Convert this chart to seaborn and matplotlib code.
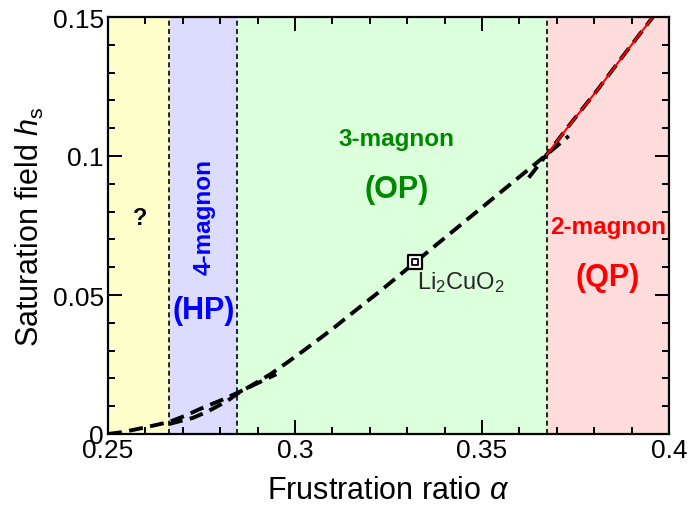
import matplotlib
matplotlib.use("Agg")
import matplotlib.pyplot as plt
import seaborn as sns
import numpy as np
from matplotlib.ticker import MultipleLocator, FixedLocator

# ---- data ----
# region boundaries (frustration ratio alpha)
bounds = [0.25, 0.2663, 0.2846, 0.3673, 0.40]
region_colors = ["#FFFFCC", "#DCDCFF", "#DCFFDC", "#FFDCDC"]

# 4-magnon branch
a4_x = [0.25, 0.254, 0.2604, 0.2663, 0.2705, 0.2746, 0.2807, 0.2846, 0.290, 0.295]
a4_y = [0.0, 0.0007, 0.0025, 0.0043, 0.0065, 0.0090, 0.0124, 0.0148, 0.0183, 0.0215]

# 3-magnon branch
a3_x = [0.2663, 0.2727, 0.2765, 0.2818, 0.2846, 0.2893, 0.2933, 0.2978, 0.3021,
        0.3061, 0.3102, 0.3142, 0.3182, 0.3222, 0.3262, 0.3316, 0.340, 0.350,
        0.360, 0.3673, 0.3732]
a3_y = [0.0036, 0.0058, 0.0080, 0.0118, 0.0145, 0.0182, 0.0214, 0.0256, 0.0298,
        0.0338, 0.0380, 0.0423, 0.0466, 0.0508, 0.0552, 0.0612, 0.0705, 0.0815,
        0.0925, 0.1005, 0.1072]

# 2-magnon branch
a2_x = [0.3625, 0.3673, 0.374, 0.381, 0.388, 0.3957, 0.400]
a2_y = [0.0922, 0.1005, 0.1122, 0.1240, 0.1365, 0.1500, 0.1580]
qp_x = [0.3673, 0.374, 0.381, 0.388, 0.3957, 0.400]
qp_y = [0.1005, 0.1122, 0.1240, 0.1365, 0.1500, 0.1580]

# Li2CuO2 point
li_x = [0.332]
li_y = [0.0618]

xticks = [0.25, 0.3, 0.35, 0.4]
xticklabels = ["0.25", "0.3", "0.35", "0.4"]
yticks = [0, 0.05, 0.1, 0.15]
yticklabels = ["0", "0.05", "0.1", "0.15"]

# ---- style ----
sns.set_theme(style="ticks")
plt.rcParams["font.family"] = ["Liberation Sans", "DejaVu Sans"]
plt.rcParams["mathtext.fontset"] = "custom"
plt.rcParams["mathtext.rm"] = "Liberation Sans"
plt.rcParams["mathtext.it"] = "Liberation Sans:italic"
plt.rcParams["mathtext.bf"] = "Liberation Sans:bold"

fig = plt.figure(figsize=(6.89, 5.10), dpi=100)
ax = fig.add_axes([108 / 689, 75 / 510, 561 / 689, 417 / 510])

for i, c in enumerate(region_colors):
    ax.axvspan(bounds[i], bounds[i + 1], color=c, lw=0, zorder=0)
for b in bounds[1:4]:
    ax.axvline(b, color="black", lw=1.2, ls=(0, (3, 2)), zorder=1)

def dashed(x, y):
    sns.lineplot(x=x, y=y, ax=ax, color="black", lw=2.8, sort=False,
                 estimator=None, zorder=3)
    ax.lines[-1].set_dashes((3.6, 1.9))

dashed(a4_x, a4_y)
dashed(a3_x, a3_y)
dashed(a2_x, a2_y)
sns.lineplot(x=qp_x, y=qp_y, ax=ax, color="red", lw=1.5, sort=False,
             estimator=None, zorder=4)

sns.scatterplot(x=li_x, y=li_y, ax=ax, marker="s", s=110, facecolor="white",
                edgecolor="black", linewidth=1.6, zorder=5)
sns.scatterplot(x=li_x, y=li_y, ax=ax, marker="s", s=20, facecolor="white",
                edgecolor="black", linewidth=1.3, zorder=6)
ax.text(0.3327, 0.0592, r"Li$_2$CuO$_2$", fontsize=17, ha="left", va="top",
        zorder=6)

# region labels
ax.text(0.2586, 0.078, "?", fontsize=17, fontweight="bold", ha="center",
        va="center", color="black")
ax.text(0.2756, 0.0785, "4-magnon", fontsize=17.5, fontweight="bold",
        rotation=90, ha="center", va="center", color="#0000FF")
ax.text(0.2756, 0.0447, "(HP)", fontsize=22, fontweight="bold", ha="center",
        va="center", color="#0000FF")
ax.text(0.3270, 0.1063, "3-magnon", fontsize=17.5, fontweight="bold",
        ha="center", va="center", color="#008800")
ax.text(0.3272, 0.0880, "(OP)", fontsize=22, fontweight="bold", ha="center",
        va="center", color="#008800")
ax.text(0.3838, 0.0745, "2-magnon", fontsize=17.5, fontweight="bold",
        ha="center", va="center", color="#FF0000")
ax.text(0.3836, 0.0566, "(QP)", fontsize=22, fontweight="bold", ha="center",
        va="center", color="#FF0000")

ax.set_xlim(0.25, 0.40)
ax.set_ylim(0, 0.15)
ax.xaxis.set_major_locator(FixedLocator(xticks))
ax.set_xticklabels(xticklabels)
ax.yaxis.set_major_locator(FixedLocator(yticks))
ax.set_yticklabels(yticklabels)
ax.xaxis.set_minor_locator(MultipleLocator(0.01))
ax.yaxis.set_minor_locator(MultipleLocator(0.01))
ax.tick_params(which="both", direction="in", top=True, right=True,
               width=1.4, color="black", labelsize=19, labelcolor="black")
ax.tick_params(which="major", length=10, pad=3)
ax.tick_params(which="minor", length=5)
for s in ax.spines.values():
    s.set_linewidth(1.6)
    s.set_color("black")
    s.set_zorder(10)

ax.set_xlabel(r"Frustration ratio $\it{\alpha}$", fontsize=22, color="black",
              labelpad=9)
ax.set_ylabel(r"Saturation field $h_{\rm s}$", fontsize=22, color="black",
              labelpad=5)
ax.grid(False)

fig.savefig("out.png", dpi=100)
